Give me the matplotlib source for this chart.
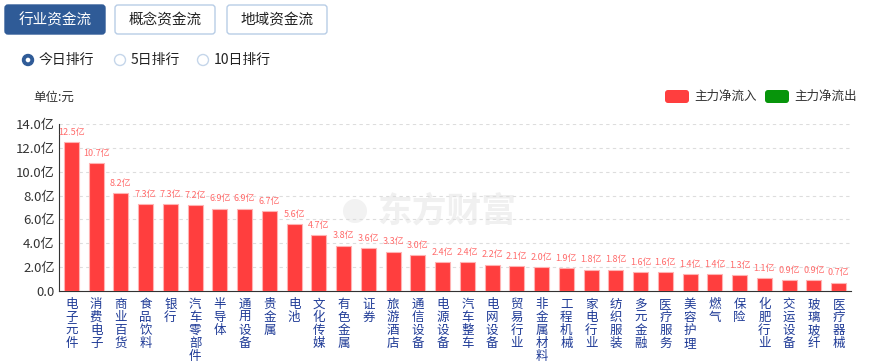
import matplotlib.pyplot as plt
import numpy as np
from matplotlib.patches import FancyBboxPatch, Circle

plt.rcParams['font.family'] = ['Noto Sans CJK SC', 'DejaVu Sans']

industries = ['电子元件', '消费电子', '商业百货', '食品饮料', '银行', '汽车零部件', '半导体',
              '通用设备', '贵金属', '电池', '文化传媒', '有色金属', '证券', '旅游酒店',
              '通信设备', '电源设备', '汽车整车', '电网设备', '贸易行业', '非金属材料',
              '工程机械', '家电行业', '纺织服装', '多元金融', '医疗服务', '美容护理',
              '燃气', '保险', '化肥行业', '交运设备', '玻璃玻纤', '医疗器械']
inflow = [12.5, 10.7, 8.2, 7.3, 7.3, 7.2, 6.9, 6.9, 6.7, 5.6, 4.7, 3.8, 3.6, 3.3,
          3.0, 2.4, 2.4, 2.2, 2.1, 2.0, 1.9, 1.8, 1.8, 1.6, 1.6, 1.4, 1.4, 1.3,
          1.1, 0.9, 0.9, 0.7]
yticks = [0, 2, 4, 6, 8, 10, 12, 14]
tabs = ['行业资金流', '概念资金流', '地域资金流']
radios = ['今日排行', '5日排行', '10日排行']

W, H = 871, 363
fig = plt.figure(figsize=(W / 100, H / 100), dpi=100)

# overlay in pixel coordinates for the header widgets
bg = fig.add_axes([0, 0, 1, 1])
bg.set_xlim(0, W)
bg.set_ylim(H, 0)
bg.axis('off')

tab_x = [5, 115, 227]
for i, t in enumerate(tabs):
    filled = i == 0
    box = FancyBboxPatch((tab_x[i], 5), 100, 29, boxstyle='round,pad=0,rounding_size=3',
                         facecolor='#2f5b97' if filled else 'white',
                         edgecolor='#2f5b97' if filled else '#b8cde6', linewidth=1)
    bg.add_patch(box)
    bg.text(tab_x[i] + 50, 20, t, ha='center', va='center', fontsize=10.5,
            color='white' if filled else '#222222')

radio_x = [28, 120, 203]
for i, r in enumerate(radios):
    if i == 0:
        bg.add_patch(Circle((radio_x[i], 60), 5.5, facecolor='#2f5b97', edgecolor='#2f5b97'))
        bg.add_patch(Circle((radio_x[i], 60), 2.3, facecolor='white', edgecolor='none'))
    else:
        bg.add_patch(Circle((radio_x[i], 60), 5.5, facecolor='white', edgecolor='#c5d6ea', lw=1))
    bg.text(radio_x[i] + 11, 60, r, ha='left', va='center', fontsize=10, color='#222222')

bg.text(33, 97, '单位:元', ha='left', va='center', fontsize=9, color='#333333')

# legend
bg.add_patch(FancyBboxPatch((665, 90), 24, 13, boxstyle='round,pad=0,rounding_size=3',
                            facecolor='#ff3e3e', edgecolor='none'))
bg.text(694, 96.5, '主力净流入', ha='left', va='center', fontsize=9, color='#333333')
bg.add_patch(FancyBboxPatch((765, 90), 24, 13, boxstyle='round,pad=0,rounding_size=3',
                            facecolor='#07950b', edgecolor='none'))
bg.text(794, 96.5, '主力净流出', ha='left', va='center', fontsize=9, color='#333333')

# watermark
bg.add_patch(Circle((355, 211), 12, facecolor='#f2f2f2', edgecolor='none', zorder=0))
bg.text(447, 211, '东方财富', ha='center', va='center', fontsize=25, fontweight='bold',
        color='#f0f0f0', zorder=0)

ax = fig.add_axes([59 / W, (H - 291) / H, 792 / W, (291 - 124) / H])
ax.patch.set_alpha(0)
x = np.arange(len(industries))
bars = ax.bar(x, inflow, width=0.6, color='#ff3e3e', edgecolor='#ffb3b3', linewidth=0.8, zorder=3)
for xi, v in zip(x, inflow):
    ax.text(xi, v + 0.45, f'{v:.1f}亿', ha='center', va='bottom', fontsize=6.5,
            color='#ff6b6b', zorder=4)

ax.set_xlim(-0.5, len(industries) - 0.5)
ax.set_ylim(0, 14)
ax.set_yticks(yticks)
ax.set_yticklabels([f'{t:.1f}亿' if t else '0.0' for t in yticks], fontsize=9.5, color='#333333')
ax.set_xticks(x)
ax.set_xticklabels(['\n'.join(n) for n in industries], fontsize=9, color='#1e3a96',
                   linespacing=1.0, va='top')
ax.tick_params(axis='both', length=0, pad=3)
ax.tick_params(axis='x', pad=5)
ax.grid(axis='y', linestyle=(0, (3, 3)), color='#dddddd', linewidth=0.8, zorder=0)
for s in ['top', 'right']:
    ax.spines[s].set_visible(False)
ax.spines['left'].set_color('#333333')
ax.spines['bottom'].set_color('#333333')

fig.savefig('out.png', dpi=100)
